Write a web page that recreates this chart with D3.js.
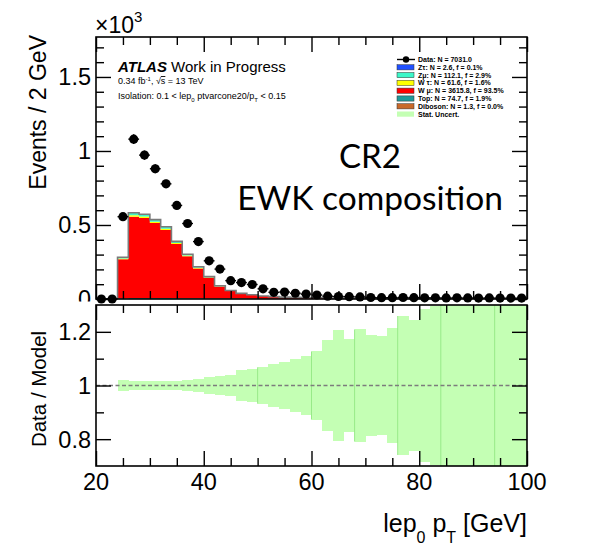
<!DOCTYPE html>
<html>
<head>
<meta charset="utf-8">
<script src="https://cdnjs.cloudflare.com/ajax/libs/d3/7.8.5/d3.min.js"></script>
<style>
  html, body { margin: 0; padding: 0; background: #ffffff; }
  svg text { font-family: "Liberation Sans", Arial, Helvetica, sans-serif; fill: #000; }
</style>
</head>
<body>
<svg id="plot" width="616" height="549" xmlns="http://www.w3.org/2000/svg"></svg>
<script>
// ---- leading-lepton pT histograms, 2 GeV bins from 20 to 100 GeV ----
const binLowEdges = [20,22,24,26,28,30,32,34,36,38,40,42,44,46,48,50,52,54,56,58,
                     60,62,64,66,68,70,72,74,76,78,80,82,84,86,88,90,92,94,96,98];
const binWidth = 2;

const dataCounts = [0,0,556,1080,972,880,778,632,510,388,258,202,124,111,98,69,45,47,39,33,
                    27,19,17,16,14,10,9,9,10,9,8,8,7,8,7,6,7,6,6,6];

const wMuNu   = [0,0,265,549,541,506,460,366,283,202,139,81,51,33,25,18,14,11,10,8,
                 7,6,5,4.3,4.4,3.5,3.5,2.6,2.6,2.7,1.7,1.8,1.8,1.8,0.8,0.9,0.9,0.9,0.9,0.9];
const wTauNu  = [0,0,4,9,9,8.5,8,6.5,5,4,3,2,1,0.6,0.5,0.3,0.2,0,0,0,
                 0,0,0,0,0,0,0,0,0,0,0,0,0,0,0,0,0,0,0,0];
const zMuMu   = [0,0,9,17,16,15,14,11,9,7,5,3,2,1.5,1,0.6,0.5,0.4,0,0,
                 0,0,0,0,0,0,0,0,0,0,0,0,0,0,0,0,0,0,0,0];
const zTauTau = [0,0,0.2,0.4,0.4,0.4,0.3,0.3,0.2,0.2,0.1,0.1,0,0,0,0,0,0,0,0,
                 0,0,0,0,0,0,0,0,0,0,0,0,0,0,0,0,0,0,0,0];
const topQuark = [0,0,4,7,6.5,6.5,6,5.5,5,4.5,4,3.5,3,2.5,2,1.5,1.4,1.3,1.2,1.1,
                  1,0.9,0.8,0.7,0.6,0.5,0.5,0.4,0.4,0.3,0.3,0.3,0.2,0.2,0.2,0.2,0.1,0.1,0.1,0.1];
const diboson = [0,0,0.1,0.1,0.1,0.1,0.1,0.1,0.1,0.1,0.1,0.1,0.1,0.1,0.1,0,0,0,0,0,
                 0,0,0,0,0,0,0,0,0,0,0,0,0,0,0,0,0,0,0,0];

// relative MC statistical uncertainty per bin (ratio band half-width)
const statUncRel = [null,null,0.021,0.015,0.015,0.015,0.018,0.018,0.022,0.025,0.031,0.036,0.038,
                    0.057,0.062,0.068,0.079,0.088,0.100,0.109,0.127,0.169,0.205,0.172,0.209,0.188,
                    0.183,0.216,0.259,0.243,0.284,0.298,0.36,0.41,0.39,0.47,0.52,0.44,0.58,0.61];
const bandSeamEdges = [50,60,68,76,84,94];

// ---- axis ticks ----
const xMajorTicks = [20,40,60,80,100];
const xTickLabels = ["20","40","60","80","100"];
const xMinorTicks = [25,30,35,45,50,55,65,70,75,85,90,95];
const yMainMajorTicks = [0,500,1000,1500];
const yMainTickLabels = ["0","0.5","1","1.5"];
const yMainMinorTicks = [100,200,300,400,600,700,800,900,1100,1200,1300,1400,1600,1700];
const yRatioMajorTicks = [0.8,1.0,1.2];
const yRatioTickLabels = ["0.8","1","1.2"];
const yRatioMinorTicks = [0.9,1.1];

// ---- samples (stack order: first is bottom) ----
const samples = [
  {key:"diboson", values:diboson,  color:"#c8692a", label:"Diboson: N = 1.3, f = 0.0%"},
  {key:"top",     values:topQuark, color:"#1f9a9a", label:"Top: N = 74.7, f = 1.9%"},
  {key:"wmu",     values:wMuNu,    color:"#ff0000", label:"W μ: N = 3615.8, f = 93.5%"},
  {key:"wtau",    values:wTauNu,   color:"#ffff00", label:"W τ: N = 61.6, f = 1.6%"},
  {key:"zmu",     values:zMuMu,    color:"#3cf7c8", label:"Zμ: N = 112.1, f = 2.9%"},
  {key:"ztau",    values:zTauTau,  color:"#2050ff", label:"Zτ: N = 2.6, f = 0.1%"}
];
const bandColor = "#c4ffb4";

// ---- layout ----
const X0 = 96, X1 = 527;
const MAIN_TOP = 37, MAIN_BOT = 299;
const RAT_TOP = 305, RAT_BOT = 466;

const svg = d3.select("#plot");
const x = d3.scaleLinear().domain([20, 100]).range([X0, X1]);
const yMain = d3.scaleLinear().domain([0, 1770]).range([MAIN_BOT, MAIN_TOP]);
const yRatio = d3.scaleLinear().domain([0.7, 1.3]).range([RAT_BOT, RAT_TOP]);

const defs = svg.append("defs");
defs.append("clipPath").attr("id", "clipMain").append("rect")
  .attr("x", X0).attr("y", MAIN_TOP).attr("width", X1 - X0).attr("height", MAIN_BOT - MAIN_TOP);
defs.append("clipPath").attr("id", "clipRatio").append("rect")
  .attr("x", X0).attr("y", RAT_TOP).attr("width", X1 - X0).attr("height", RAT_BOT - RAT_TOP);
defs.append("clipPath").attr("id", "clipMainLabels").append("rect")
  .attr("x", 0).attr("y", 0).attr("width", X0).attr("height", MAIN_BOT + 2.5);

// ---- stacked MC ----
const rows = binLowEdges.map((lo, i) => {
  const r = {lo};
  samples.forEach(s => { r[s.key] = s.values[i]; });
  return r;
});
const rowsExt = rows.concat([Object.assign({}, rows[rows.length - 1], {lo: 100})]);
const stacked = d3.stack().keys(samples.map(s => s.key))(rowsExt);

const stackArea = d3.area()
  .curve(d3.curveStepAfter)
  .x(d => x(d.data.lo))
  .y0(d => yMain(d[0]))
  .y1(d => yMain(d[1]));

const gMain = svg.append("g").attr("clip-path", "url(#clipMain)");
gMain.selectAll("path.layer").data(stacked).join("path")
  .attr("class", "layer")
  .attr("d", stackArea)
  .attr("fill", (d, i) => samples[i].color)
  .attr("stroke", "none");

const totalLine = d3.line()
  .curve(d3.curveStepAfter)
  .x(d => x(d.lo))
  .y(d => yMain(samples.reduce((a, s) => a + d[s.key], 0)));
gMain.append("path").datum(rowsExt)
  .attr("d", totalLine)
  .attr("fill", "none")
  .attr("stroke", "#7a7a7a")
  .attr("stroke-width", 1.6);

// ---- data points with error bars ----
const dataPts = binLowEdges.map((lo, i) => ({lo, c: dataCounts[i]}));
const gData = svg.append("g");
gData.selectAll("line.xerr").data(dataPts).join("line")
  .attr("x1", d => x(d.lo)).attr("x2", d => x(d.lo + binWidth))
  .attr("y1", d => yMain(d.c)).attr("y2", d => yMain(d.c))
  .attr("stroke", "#000").attr("stroke-width", 1.4);
gData.selectAll("line.yerr").data(dataPts.filter(d => d.c > 0)).join("line")
  .attr("x1", d => x(d.lo + binWidth / 2)).attr("x2", d => x(d.lo + binWidth / 2))
  .attr("y1", d => yMain(d.c - Math.sqrt(d.c))).attr("y2", d => yMain(d.c + Math.sqrt(d.c)))
  .attr("stroke", "#000").attr("stroke-width", 1.4);
gData.selectAll("circle").data(dataPts).join("circle")
  .attr("cx", d => x(d.lo + binWidth / 2))
  .attr("cy", d => yMain(d.c))
  .attr("r", 4.6)
  .attr("fill", "#000");

// ---- ratio panel: MC stat. uncertainty band ----
const gRatio = svg.append("g").attr("clip-path", "url(#clipRatio)");
const bandBins = binLowEdges.map((lo, i) => ({lo, u: statUncRel[i]})).filter(d => d.u !== null);
gRatio.selectAll("rect.band").data(bandBins).join("rect")
  .attr("class", "band")
  .attr("x", d => x(d.lo))
  .attr("width", d => x(d.lo + binWidth) - x(d.lo) + 0.4)
  .attr("y", d => yRatio(1 + d.u))
  .attr("height", d => yRatio(1 - d.u) - yRatio(1 + d.u))
  .attr("fill", bandColor)
  .attr("shape-rendering", "crispEdges");
gRatio.selectAll("line.seam").data(bandSeamEdges.map(e => bandBins.find(b => b.lo === e))).join("line")
  .attr("x1", d => x(d.lo)).attr("x2", d => x(d.lo))
  .attr("y1", d => yRatio(1 + d.u)).attr("y2", d => yRatio(1 - d.u))
  .attr("stroke", "#98ea88").attr("stroke-width", 1);
gRatio.append("line")
  .attr("x1", X0).attr("x2", X1)
  .attr("y1", yRatio(1)).attr("y2", yRatio(1))
  .attr("stroke", "#7c7c7c").attr("stroke-width", 1.5)
  .attr("stroke-dasharray", "4,2.5");

// ---- frames and ticks ----
function tickAxis(gen, values, size, tx, ty) {
  const g = svg.append("g").attr("transform", `translate(${tx},${ty})`)
    .call(gen.tickValues(values).tickSize(-size).tickFormat(""));
  g.select(".domain").remove();
  g.selectAll(".tick line").attr("stroke", "#000").attr("stroke-width", 1.4);
  return g;
}
const MAJ = 15, MIN = 8;
// main pad
tickAxis(d3.axisBottom(x), xMajorTicks, MAJ, 0, MAIN_BOT);
tickAxis(d3.axisBottom(x), xMinorTicks, MIN, 0, MAIN_BOT);
tickAxis(d3.axisTop(x), xMajorTicks, MAJ, 0, MAIN_TOP);
tickAxis(d3.axisTop(x), xMinorTicks, MIN, 0, MAIN_TOP);
tickAxis(d3.axisLeft(yMain), yMainMajorTicks, MAJ, X0, 0);
tickAxis(d3.axisLeft(yMain), yMainMinorTicks, MIN, X0, 0);
tickAxis(d3.axisRight(yMain), yMainMajorTicks, MAJ, X1, 0);
tickAxis(d3.axisRight(yMain), yMainMinorTicks, MIN, X1, 0);
// ratio pad
tickAxis(d3.axisBottom(x), xMajorTicks, MAJ, 0, RAT_BOT);
tickAxis(d3.axisBottom(x), xMinorTicks, MIN, 0, RAT_BOT);
tickAxis(d3.axisTop(x), xMajorTicks, MAJ, 0, RAT_TOP);
tickAxis(d3.axisTop(x), xMinorTicks, MIN, 0, RAT_TOP);
tickAxis(d3.axisLeft(yRatio), yRatioMajorTicks, MAJ, X0, 0);
tickAxis(d3.axisLeft(yRatio), yRatioMinorTicks, MIN, X0, 0);
tickAxis(d3.axisRight(yRatio), yRatioMajorTicks, MAJ, X1, 0);
tickAxis(d3.axisRight(yRatio), yRatioMinorTicks, MIN, X1, 0);

svg.append("rect").attr("x", X0).attr("y", MAIN_TOP)
  .attr("width", X1 - X0).attr("height", MAIN_BOT - MAIN_TOP)
  .attr("fill", "none").attr("stroke", "#000").attr("stroke-width", 1.6);
svg.append("rect").attr("x", X0).attr("y", RAT_TOP)
  .attr("width", X1 - X0).attr("height", RAT_BOT - RAT_TOP)
  .attr("fill", "none").attr("stroke", "#000").attr("stroke-width", 1.6);

// ---- tick labels ----
const TICK_FONT = 23.5;
svg.append("g").attr("clip-path", "url(#clipMainLabels)")
  .selectAll("text").data(yMainMajorTicks).join("text")
  .attr("x", 91).attr("y", d => yMain(d)).attr("dy", "0.36em")
  .attr("text-anchor", "end").attr("font-size", TICK_FONT)
  .text((d, i) => yMainTickLabels[i]);
svg.append("g").selectAll("text").data(yRatioMajorTicks).join("text")
  .attr("x", 91).attr("y", d => yRatio(d)).attr("dy", "0.36em")
  .attr("text-anchor", "end").attr("font-size", TICK_FONT)
  .text((d, i) => yRatioTickLabels[i]);
svg.append("g").selectAll("text").data(xMajorTicks).join("text")
  .attr("x", d => x(d)).attr("y", 490)
  .attr("text-anchor", "middle").attr("font-size", TICK_FONT)
  .text((d, i) => xTickLabels[i]);

// ×10^3 multiplier
const mult = svg.append("text").attr("x", 95).attr("y", 33).attr("font-size", 23);
mult.append("tspan").text("×10");
mult.append("tspan").attr("font-size", 15).attr("dy", -11).text("3");

// ---- axis titles ----
svg.append("text")
  .attr("transform", "translate(46,35) rotate(-90)")
  .attr("text-anchor", "end").attr("font-size", 23)
  .text("Events / 2 GeV");
svg.append("text")
  .attr("transform", "translate(46,389) rotate(-90)")
  .attr("text-anchor", "middle").attr("font-size", 20.5)
  .text("Data / Model");

const xt = svg.append("text").attr("x", 527).attr("y", 532)
  .attr("text-anchor", "end").attr("font-size", 25);
xt.append("tspan").text("lep");
xt.append("tspan").attr("font-size", 16).attr("dy", 11).text("0");
xt.append("tspan").attr("dy", -11).text(" p");
xt.append("tspan").attr("font-size", 16).attr("dy", 11).text("T");
xt.append("tspan").attr("dy", -11).text(" [GeV]");

// ---- ATLAS label block ----
const atlas = svg.append("text").attr("x", 118).attr("y", 72).attr("font-size", 15);
atlas.append("tspan").attr("font-weight", "bold").attr("font-style", "italic").text("ATLAS");
atlas.append("tspan").text(" Work in Progress");

const lumi = svg.append("text").attr("x", 118).attr("y", 84).attr("font-size", 9);
lumi.append("tspan").text("0.34 fb");
lumi.append("tspan").attr("font-size", 6).attr("dy", -3.5).text("-1");
lumi.append("tspan").attr("dy", 3.5).text(", √");
lumi.append("tspan").attr("text-decoration", "overline").text("s");
lumi.append("tspan").text(" = 13 TeV");

const iso = svg.append("text").attr("x", 118).attr("y", 99).attr("font-size", 9);
iso.append("tspan").text("Isolation: 0.1 < lep");
iso.append("tspan").attr("font-size", 6).attr("dy", 2.5).text("0");
iso.append("tspan").attr("dy", -2.5).text(" ptvarcone20/p");
iso.append("tspan").attr("font-size", 6).attr("dy", 2.5).text("T");
iso.append("tspan").attr("dy", -2.5).text(" < 0.15");

// ---- legend ----
const legendRows = [{kind: "data", label: "Data: N = 7031.0"}]
  .concat(samples.slice().reverse().map(s => ({kind: "box", color: s.color, label: s.label})))
  .concat([{kind: "band", color: bandColor, label: "Stat. Uncert."}]);
const LEG_X = 397, LEG_Y0 = 59.5, LEG_DY = 7.8;
const gLeg = svg.append("g");
legendRows.forEach((r, i) => {
  const cy = LEG_Y0 + i * LEG_DY;
  if (r.kind === "data") {
    gLeg.append("line").attr("x1", LEG_X).attr("x2", LEG_X + 18).attr("y1", cy).attr("y2", cy)
      .attr("stroke", "#000").attr("stroke-width", 1.4);
    gLeg.append("circle").attr("cx", LEG_X + 9).attr("cy", cy).attr("r", 3.2).attr("fill", "#000");
  } else {
    gLeg.append("rect").attr("x", LEG_X).attr("y", cy - 2.6).attr("width", 17).attr("height", 5.2)
      .attr("fill", r.color)
      .attr("stroke", r.kind === "box" ? "#333" : "none").attr("stroke-width", 0.5);
  }
  gLeg.append("text").attr("x", LEG_X + 21).attr("y", cy).attr("dy", "0.36em")
    .attr("font-size", 7).attr("font-weight", "bold").text(r.label);
});

// ---- region annotation ----
svg.append("text").attr("x", 370).attr("y", 168)
  .attr("text-anchor", "middle").attr("font-size", 33)
  .style("font-family", "Lato, 'Open Sans', sans-serif")
  .text("CR2");
svg.append("text").attr("x", 370).attr("y", 210)
  .attr("text-anchor", "middle").attr("font-size", 33.5)
  .style("font-family", "Lato, 'Open Sans', sans-serif")
  .text("EWK composition");
</script>
</body>
</html>
